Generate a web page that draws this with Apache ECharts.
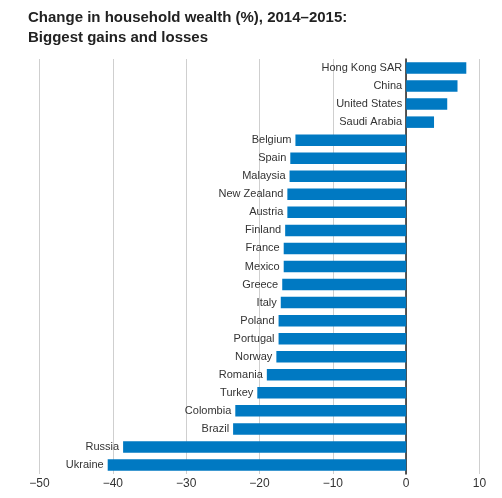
<!DOCTYPE html>
<html>
<head>
<meta charset="utf-8">
<script src="https://cdn.jsdelivr.net/npm/echarts@6/dist/echarts.min.js"></script>
<style>
  html, body { margin: 0; padding: 0; background: #fff; }
  #chart { width: 502px; height: 498px; }
</style>
</head>
<body>
<div id="chart"></div>
<script>
// change in household wealth, top to bottom as drawn
var countries = ['Hong Kong SAR', 'China', 'United States', 'Saudi Arabia', 'Belgium', 'Spain',
  'Malaysia', 'New Zealand', 'Austria', 'Finland', 'France', 'Mexico', 'Greece', 'Italy',
  'Poland', 'Portugal', 'Norway', 'Romania', 'Turkey', 'Colombia', 'Brazil', 'Russia', 'Ukraine'];
var changes = [8.2, 7.0, 5.6, 3.8, -15.1, -15.8, -15.9, -16.2, -16.2, -16.5, -16.7, -16.7,
  -16.9, -17.1, -17.4, -17.4, -17.7, -19.0, -20.3, -23.3, -23.6, -38.6, -40.7];
var xTicks = [-50, 10, 10]; // min, max, step

var chart = echarts.init(document.getElementById('chart'));

chart.setOption({
  animation: false,
  title: {
    text: 'Change in household wealth (%), 2014\u20132015:\nBiggest gains and losses',
    left: 23,
    top: 3,
    textStyle: {
      fontFamily: 'Liberation Sans',
      fontSize: 15,
      fontWeight: 'bold',
      color: '#222',
      lineHeight: 20
    }
  },
  grid: { left: 39.5, right: 22.5, top: 59, bottom: 24, containLabel: false, outerBoundsMode: 'none' },
  xAxis: {
    type: 'value',
    min: xTicks[0],
    max: xTicks[1],
    interval: xTicks[2],
    axisLine: { show: false },
    axisTick: { show: false },
    splitLine: { show: true, lineStyle: { color: '#cfcfcf', width: 1 } },
    axisLabel: {
      margin: 4,
      fontFamily: 'Liberation Sans',
      fontSize: 12,
      color: '#333',
      formatter: function (v) { return String(v).replace('-', '\u2212'); }
    }
  },
  yAxis: {
    type: 'category',
    data: countries,
    inverse: true,
    axisLine: { show: true, onZero: true, lineStyle: { color: '#222', width: 1.5 } },
    axisTick: { show: false },
    splitLine: { show: false },
    axisLabel: { show: false }
  },
  series: [{
    type: 'bar',
    data: changes,
    barWidth: 11.5,
    itemStyle: { color: '#0079c2' },
    z: 1,
    // name sits left of the bar: at its end for losses, at zero for gains
    label: {
      show: true,
      position: 'left',
      distance: 4,
      formatter: '{b}',
      fontFamily: 'Liberation Sans',
      fontSize: 11,
      color: '#333'
    }
  }]
});
</script>
</body>
</html>
